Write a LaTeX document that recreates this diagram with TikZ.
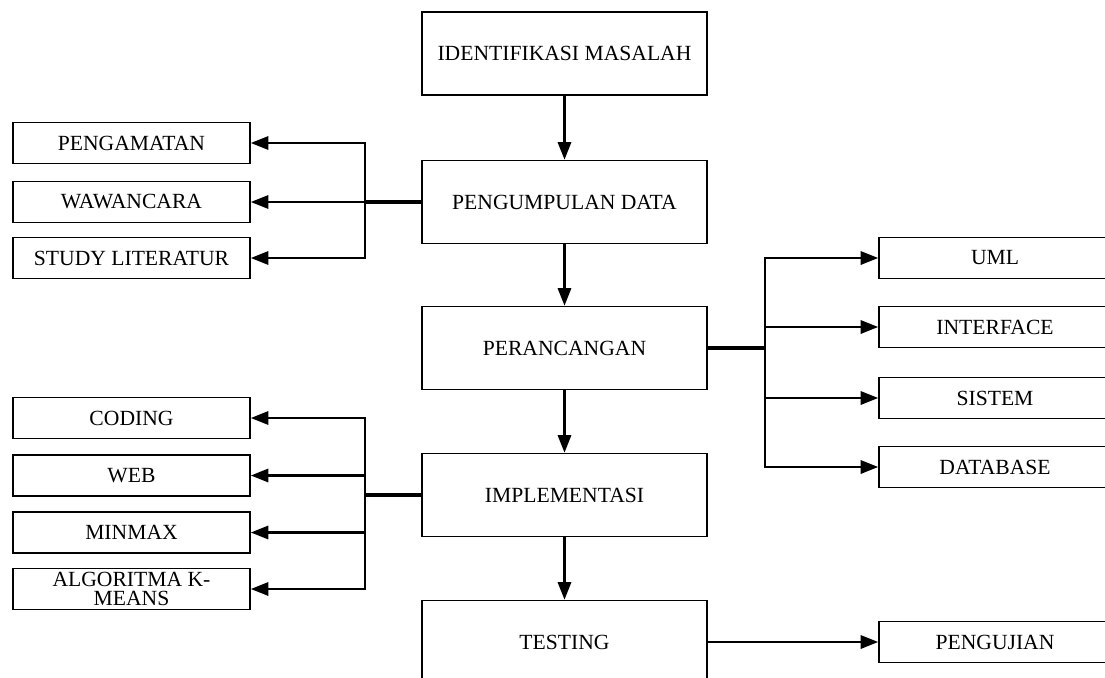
\documentclass[tikz,border=0pt]{standalone}
\usepackage{fontspec}
\setmainfont{Liberation Serif}
\usetikzlibrary{arrows.meta}

\tikzset{
  stage/.style={draw, line width=0.9pt, inner sep=0pt, minimum width=5.7cm, minimum height=1.66cm, font=\fontsize{12.3}{12}\selectfont},
  item/.style={draw, line width=0.9pt, inner sep=0pt, minimum width=4.74cm, minimum height=0.82cm, align=center, font=\fontsize{12.3}{11}\selectfont},
  output/.style={item, minimum width=4.64cm},
  link/.style={line width=1.5pt, -{Triangle[length=10pt, width=7.5pt]}},
  bus/.style={line width=2pt}
}

\begin{document}
\begin{tikzpicture}[x=0.02cm, y=-0.02cm]
      \clip (0,0) rectangle (1105,677);

      % main stages
      \node[stage] (ident) at (564.5,53.5) {IDENTIFIKASI MASALAH};
      \node[stage] (kumpul) at (564.5,202) {PENGUMPULAN DATA};
      \node[stage] (rancang) at (564.5,348) {PERANCANGAN};
      \node[stage] (implement) at (564.5,495) {IMPLEMENTASI};
      \node[stage] (testing) at (564.5,642) {TESTING};

      % left items
      \node[item] (amat) at (131.5,143) {PENGAMATAN};
      \node[item] (wawan) at (131.5,202) {WAWANCARA};
      \node[item] (studi) at (131.5,258) {STUDY LITERATUR};
      \node[item] (coding) at (131.5,418) {CODING};
      \node[item] (web) at (131.5,475.5) {WEB};
      \node[item] (minmax) at (131.5,532.5) {MINMAX};
      \node[item] (kmeans) at (131.5,589) {ALGORITMA K-\\MEANS};

      % right items
      \node[output] (uml) at (995,258) {UML};
      \node[output] (iface) at (995,327) {INTERFACE};
      \node[output] (sistem) at (995,398) {SISTEM};
      \node[output] (dbase) at (995,467) {DATABASE};
      \node[output] (uji) at (995,642) {PENGUJIAN};

      \coordinate (cabang1) at (365,202);
      \coordinate (cabang2) at (765,348);
      \coordinate (cabang3) at (365,495);

      \draw[link] (ident) -- (kumpul);
      \draw[link] (kumpul) -- (rancang);
      \draw[link] (rancang) -- (implement);
      \draw[link] (implement) -- (testing);
      \draw[link] (testing) -- (uji);

      \draw[bus] (kumpul.west) -- (cabang1);
      \draw[link] (cabang1) |- (amat.east);
      \draw[link] (cabang1) -- (wawan.east);
      \draw[link] (cabang1) |- (studi.east);

      \draw[bus] (rancang.east) -- (cabang2);
      \draw[link] (cabang2) |- (uml.west);
      \draw[link] (cabang2) |- (iface.west);
      \draw[link] (cabang2) |- (sistem.west);
      \draw[link] (cabang2) |- (dbase.west);

      \draw[bus] (implement.west) -- (cabang3);
      \draw[link] (cabang3) |- (coding.east);
      \draw[link] (cabang3) |- (web.east);
      \draw[link] (cabang3) |- (minmax.east);
      \draw[link] (cabang3) |- (kmeans.east);
    \end{tikzpicture}
\end{document}
